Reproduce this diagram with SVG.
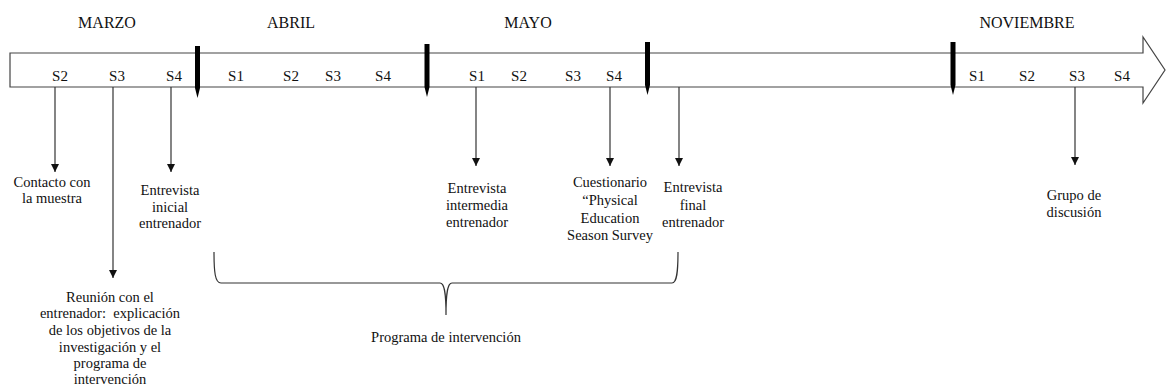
<svg xmlns="http://www.w3.org/2000/svg" width="1166" height="392" viewBox="0 0 1166 392" font-family="'Liberation Serif', 'DejaVu Serif', serif">
<style>
text{font-family:'Liberation Serif','DejaVu Serif',serif;fill:#111;text-anchor:middle}
.m{font-size:16px}
.s{font-size:15px}
.t{font-size:14.5px}
.ln{stroke:#333;stroke-width:1.2;fill:none}
.bar{fill:#000}
</style>
<defs>
<marker id="ah" viewBox="0 0 10 10" refX="10" refY="5" markerWidth="8" markerHeight="8" markerUnits="userSpaceOnUse" orient="auto">
<path d="M0,0 L10,5 L0,10 z" fill="#111"/>
</marker>
</defs>
<rect width="1166" height="392" fill="#fff"/>
<g id="timeline">
<path d="M10,53 H1143 V37 L1165,70 L1143,103 V87 H10 Z" fill="#fff" stroke="#444" stroke-width="1.2"/>
<polygon class="bar" points="195,46 200,46 200,88 197.5,98 195,88"/>
<polygon class="bar" points="424.5,44 429.5,44 429.5,87 427,97 424.5,87"/>
<polygon class="bar" points="645,42 650,42 650,85 647.5,95 645,85"/>
<polygon class="bar" points="950.5,42 955.5,42 955.5,85 953,95 950.5,85"/>
</g>
<g id="months">
<text class="m" x="107" y="28">MARZO</text>
<text class="m" x="291" y="28">ABRIL</text>
<text class="m" x="528" y="28">MAYO</text>
<text class="m" x="1027" y="28">NOVIEMBRE</text>
</g>
<g id="weeks">
<text class="s" x="60" y="81">S2</text>
<text class="s" x="117" y="81">S3</text>
<text class="s" x="174" y="81">S4</text>
<text class="s" x="236" y="81">S1</text>
<text class="s" x="291" y="81">S2</text>
<text class="s" x="333" y="81">S3</text>
<text class="s" x="383" y="81">S4</text>
<text class="s" x="477" y="81">S1</text>
<text class="s" x="519" y="81">S2</text>
<text class="s" x="573" y="81">S3</text>
<text class="s" x="614" y="81">S4</text>
<text class="s" x="977" y="81">S1</text>
<text class="s" x="1027" y="81">S2</text>
<text class="s" x="1077" y="81">S3</text>
<text class="s" x="1122" y="81">S4</text>
</g>
<g id="connectors">
<line class="ln" x1="55" y1="87" x2="55" y2="172" marker-end="url(#ah)"/>
<line class="ln" x1="113" y1="87" x2="113" y2="278" marker-end="url(#ah)"/>
<line class="ln" x1="171" y1="87" x2="171" y2="172" marker-end="url(#ah)"/>
<line class="ln" x1="476" y1="87" x2="476" y2="166" marker-end="url(#ah)"/>
<line class="ln" x1="610" y1="87" x2="610" y2="166" marker-end="url(#ah)"/>
<line class="ln" x1="679" y1="87" x2="679" y2="166" marker-end="url(#ah)"/>
<line class="ln" x1="1075" y1="87" x2="1075" y2="165" marker-end="url(#ah)"/>
<path class="ln" stroke-width="1.5" d="M214,252 C214,272 215,283 221,283 H440 C444,283 446,290 446,315 C446,290 448,283 452,283 H672 C677,283 678,272 678,252"/>
</g>
<g id="contacto">
<text class="t" x="52" y="187">Contacto con</text>
<text class="t" x="52" y="203">la muestra</text>
</g>
<g id="reunion">
<text class="t" x="110" y="302">Reunión con el</text>
<text class="t" x="110" y="318">entrenador:&#160; explicación</text>
<text class="t" x="110" y="335">de los objetivos de la</text>
<text class="t" x="110" y="352">investigación y el</text>
<text class="t" x="110" y="368">programa de</text>
<text class="t" x="110" y="384">intervención</text>
</g>
<g id="entrevista-inicial">
<text class="t" x="170" y="195">Entrevista</text>
<text class="t" x="170" y="212">inicial</text>
<text class="t" x="170" y="228">entrenador</text>
</g>
<g id="entrevista-intermedia">
<text class="t" x="477" y="193">Entrevista</text>
<text class="t" x="477" y="210">intermedia</text>
<text class="t" x="477" y="227">entrenador</text>
</g>
<g id="cuestionario">
<text class="t" x="610" y="187">Cuestionario</text>
<text class="t" x="610" y="205">“Physical</text>
<text class="t" x="610" y="223">Education</text>
<text class="t" x="610" y="240">Season Survey</text>
</g>
<g id="entrevista-final">
<text class="t" x="693" y="192">Entrevista</text>
<text class="t" x="693" y="210">final</text>
<text class="t" x="693" y="227">entrenador</text>
</g>
<g id="grupo">
<text class="t" x="1074" y="200">Grupo de</text>
<text class="t" x="1074" y="217">discusión</text>
</g>
<g id="programa">
<text class="t" x="446" y="342">Programa de intervención</text>
</g>
</svg>
